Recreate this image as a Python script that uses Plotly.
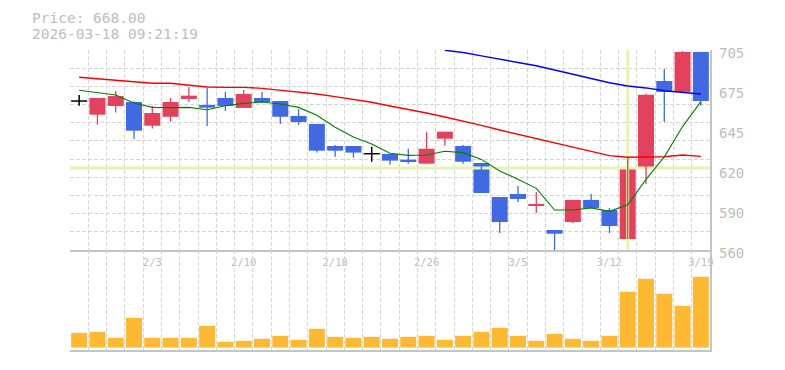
import plotly.graph_objects as go

# ---- data ----
dates = ["1/28", "1/29", "1/30", "2/2", "2/3", "2/4", "2/5", "2/6", "2/9", "2/10",
         "2/12", "2/13", "2/16", "2/17", "2/18", "2/19", "2/20", "2/24", "2/25", "2/26",
         "2/27", "3/2", "3/3", "3/4", "3/5", "3/6", "3/9", "3/10", "3/11", "3/12",
         "3/13", "3/16", "3/17", "3/18", "3/19"]
label_dates = ["2/3", "2/10", "2/18", "2/26", "3/5", "3/12", "3/19"]

opens = [668.0, 658.1, 664.4, 667.3, 650.1, 656.6, 669.5, 665.1, 670.2, 663.0,
         670.2, 668.0, 657.2, 651.4, 635.4, 635.4, 629.8, 629.6, 625.5, 622.6,
         640.7, 635.4, 623.1, 598.4, 600.6, 592.3, 574.5, 580.3, 596.3, 589.0,
         568.0, 618.7, 682.5, 674.6, 703.6]
highs = [672.4, 670.2, 675.3, 667.8, 664.4, 670.2, 678.2, 677.5, 674.6, 676.0,
         674.6, 668.0, 662.2, 651.4, 636.1, 635.4, 634.9, 629.6, 633.4, 645.8,
         645.8, 636.1, 623.1, 598.4, 606.4, 602.1, 574.5, 596.3, 600.6, 590.5,
         627.4, 673.3, 691.2, 704.3, 703.6]
lows = [664.6, 650.8, 659.6, 640.5, 648.0, 653.0, 667.3, 649.9, 660.8, 663.0,
        666.6, 651.4, 650.8, 630.6, 627.6, 626.9, 624.0, 621.8, 622.6, 622.6,
        635.6, 622.6, 601.3, 572.3, 594.8, 586.8, 560.0, 579.6, 590.5, 572.3,
        568.0, 607.9, 652.8, 674.6, 664.6]
closes = [668.0, 670.2, 671.6, 646.5, 659.3, 667.3, 671.9, 663.2, 664.4, 673.1,
          667.3, 656.6, 652.8, 632.0, 632.0, 630.6, 629.8, 624.8, 623.8, 633.4,
          645.8, 624.0, 601.3, 580.3, 597.0, 593.4, 571.8, 596.3, 590.5, 577.4,
          619.5, 672.6, 674.6, 703.6, 668.0]
ma_short = [675.8, 674.3, 672.4, 666.5, 663.4, 663.2, 663.4, 661.7, 664.6, 666.3,
            667.3, 665.9, 663.4, 657.7, 649.0, 642.0, 636.9, 630.1, 628.6, 628.9,
            631.6, 630.6, 625.7, 617.3, 611.3, 604.7, 589.0, 589.0, 590.5, 588.0,
            592.8, 611.2, 627.5, 649.5, 667.6]
ma_mid = [685.2, 684.0, 683.0, 681.8, 680.9, 680.9, 679.6, 678.2, 677.9, 677.9,
          677.2, 676.0, 674.8, 673.1, 671.2, 669.3, 667.1, 664.4, 662.0, 659.3,
          656.4, 653.5, 650.4, 647.0, 643.9, 640.5, 637.4, 634.2, 631.3, 628.4,
          627.2, 627.2, 627.6, 628.9, 627.9]
ma_long = [None] * 20 + [704.8, 703.2, 700.7, 698.2, 696.1, 693.6, 690.5, 687.4,
                         684.5, 681.3, 678.9, 677.5, 675.5, 674.3, 673.1]
volumes = [147, 157, 97, 297, 97, 97, 97, 217, 57, 67, 87, 117, 77, 187, 107, 97, 107, 87,
           107, 117, 77, 117, 157, 197, 117, 67, 137, 87, 67, 117, 557, 687, 537, 417, 707]
price_ticks = [560, 589, 618, 647, 676, 705]
price_tick_text = ["560", "590", "620", "645", "675", "705"]
cross_index = 30  # crosshair candle (3/12)

# ---- styles ----
UP = "#e3425e"
DOWN = "#4169e1"
VOL = "#fdb933"
GRID = "#d6d6d6"
AXIS = "#c4c4c4"
TXT = "#bdbdbd"
FONT = "DejaVu Sans Mono"
BW = 0.875
PAGE_OFF = 8  # browser body margin

n = len(dates)
idx = list(range(n))

fig = go.Figure()

# crosshair (drawn first, under everything)
ci = cross_index
fig.add_trace(go.Scatter(x=[ci, ci], y=[560, 705], mode="lines",
                         line=dict(color="#e4f5b2", width=3),
                         xaxis="x", yaxis="y", showlegend=False, hoverinfo="skip"))
fig.add_trace(go.Scatter(x=[-0.5, n - 0.5], y=[closes[ci], closes[ci]], mode="lines",
                         line=dict(color="#e4f5b2", width=3),
                         xaxis="x", yaxis="y", showlegend=False, hoverinfo="skip"))


def wick_xy(sel):
    xs, ys = [], []
    for i in idx:
        if sel(i):
            xs += [i, i, None]
            ys += [lows[i], highs[i], None]
    return xs, ys


up = lambda i: closes[i] > opens[i]
down = lambda i: closes[i] < opens[i]
doji = lambda i: closes[i] == opens[i]

for sel, col in ((up, UP), (down, DOWN)):
    wx, wy = wick_xy(sel)
    fig.add_trace(go.Scatter(x=wx, y=wy, mode="lines", line=dict(color=col, width=1.3),
                             xaxis="x", yaxis="y", showlegend=False, hoverinfo="skip"))

# doji crosses
dx, dy = [], []
for i in idx:
    if doji(i):
        dx += [i, i, None, i - BW / 2, i + BW / 2, None]
        dy += [lows[i], highs[i], None, opens[i], opens[i], None]
fig.add_trace(go.Scatter(x=dx, y=dy, mode="lines", line=dict(color="#000000", width=1.5),
                         xaxis="x", yaxis="y", showlegend=False, hoverinfo="skip"))

# bodies
for sel, col in ((up, UP), (down, DOWN)):
    bx = [i for i in idx if sel(i)]
    base = [min(opens[i], closes[i]) for i in bx]
    hgt = [abs(closes[i] - opens[i]) for i in bx]
    fig.add_trace(go.Bar(x=bx, y=hgt, base=base, width=BW, marker=dict(color=col, line_width=0),
                         xaxis="x", yaxis="y", showlegend=False, hoverinfo="skip"))

# moving averages
fig.add_trace(go.Scatter(x=idx, y=ma_mid, mode="lines", line=dict(color="#ff0000", width=1.4),
                         xaxis="x", yaxis="y", showlegend=False, hoverinfo="skip"))
fig.add_trace(go.Scatter(x=idx, y=ma_long, mode="lines", line=dict(color="#0000ff", width=1.4),
                         xaxis="x", yaxis="y", showlegend=False, hoverinfo="skip"))
fig.add_trace(go.Scatter(x=idx, y=ma_short, mode="lines", line=dict(color="#008000", width=1.1),
                         xaxis="x", yaxis="y", showlegend=False, hoverinfo="skip"))

# empty trace so the price-label axis is drawn
fig.add_trace(go.Scatter(x=[None], y=[None], mode="lines", xaxis="x", yaxis="y3",
                         showlegend=False, hoverinfo="skip"))

# volume
fig.add_trace(go.Bar(x=idx, y=volumes, width=BW, marker=dict(color=VOL, line_width=0),
                     xaxis="x2", yaxis="y2", showlegend=False, hoverinfo="skip"))

grid_minor = dict(tickmode="array", tickvals=[i - 0.5 for i in range(n + 1)], showgrid=True,
                  gridcolor=GRID, griddash="4px,2px", gridwidth=1, ticks="")
tick_pos = [dates.index(d) for d in label_dates]

L, T = 70 - PAGE_OFF, 50 - PAGE_OFF
fig.update_layout(
    width=785, height=370,
    margin=dict(l=L, r=785 - L - 640, t=T, b=370 - T - 300, autoexpand=False),
    paper_bgcolor="white", plot_bgcolor="white",
    barmode="overlay", hovermode=False, showlegend=False,
    font=dict(family=FONT, color=TXT),
    xaxis=dict(domain=[0, 1], anchor="y", range=[-0.5, n - 0.5], showgrid=False,
               tickmode="array", tickvals=tick_pos, ticktext=label_dates,
               tickfont=dict(family=FONT, size=10.5, color=TXT), ticks="",
               ticklabelstandoff=2,
               showline=True, linecolor=AXIS, linewidth=1.5, zeroline=False,
               minor=grid_minor),
    yaxis=dict(domain=[1 / 3, 1], anchor="x", range=[560, 705], side="right",
               tickmode="linear", tick0=560, dtick=145 / 11, showticklabels=False,
               showgrid=True, gridcolor=GRID, griddash="4px,2px", gridwidth=1,
               showline=True, linecolor=AXIS, linewidth=1.5, zeroline=False, ticks=""),
    yaxis3=dict(overlaying="y", anchor="x", side="right", range=[560, 705],
                tickmode="array", tickvals=price_ticks, ticktext=price_tick_text,
                tickfont=dict(family=FONT, size=14, color=TXT), showgrid=False,
                showline=False, zeroline=False, ticks="", ticklabelstandoff=8,
                ticklabelshift=3),
    xaxis2=dict(domain=[0, 1], anchor="y2", range=[-0.5, n - 0.5], showgrid=False,
                showticklabels=False, ticks="", showline=True, linecolor=AXIS, linewidth=1.5,
                zeroline=False, minor=grid_minor),
    yaxis2=dict(domain=[0, 1 / 3], anchor="x2", range=[-25, 975], side="right",
                showgrid=False, showticklabels=False, ticks="", zeroline=False,
                showline=True, linecolor=AXIS, linewidth=1.5),
)

fig.add_annotation(text="Price: 668.00", xref="paper", yref="paper", x=-40 / 640, y=(350 - 18) / 300,
                   xanchor="left", yanchor="middle", showarrow=False,
                   font=dict(family=FONT, size=14.5, color=TXT))
fig.add_annotation(text="2026-03-18 09:21:19", xref="paper", yref="paper", x=-40 / 640,
                   y=(350 - 34) / 300, xanchor="left", yanchor="middle", showarrow=False,
                   font=dict(family=FONT, size=14.5, color=TXT))

fig.write_html("out.html")
